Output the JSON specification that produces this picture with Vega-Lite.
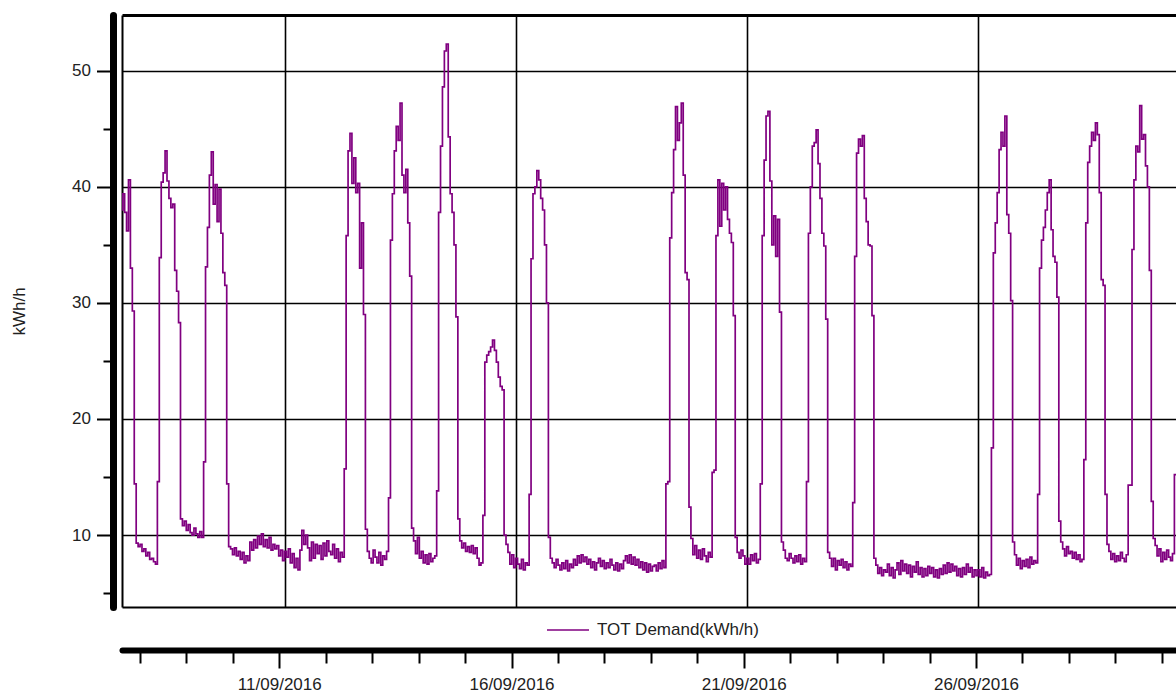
{
"$schema":"https://vega.github.io/schema/vega-lite/v6.json",
"width":1054,"height":592,
"autosize":{"type":"none"},
"padding":{"left":122,"top":15,"right":0,"bottom":89},
"background":"white",
"config":{"view":{"stroke":null},"font":"Liberation Sans"},
"data":{"values":[
{"t":"2016-09-07T11:00Z","v":38.0},{"t":"2016-09-07T12:00Z","v":39.4},{"t":"2016-09-07T13:00Z","v":37.8},{"t":"2016-09-07T14:00Z","v":36.2},{"t":"2016-09-07T15:00Z","v":40.6},{"t":"2016-09-07T16:00Z","v":33.0},{"t":"2016-09-07T17:00Z","v":29.3},{"t":"2016-09-07T18:00Z","v":14.4},{"t":"2016-09-07T19:00Z","v":9.3},{"t":"2016-09-07T20:00Z","v":9.0},{"t":"2016-09-07T21:00Z","v":9.2},{"t":"2016-09-07T22:00Z","v":8.6},{"t":"2016-09-07T23:00Z","v":8.8},
{"t":"2016-09-08T00:00Z","v":8.2},{"t":"2016-09-08T01:00Z","v":8.5},{"t":"2016-09-08T02:00Z","v":7.9},{"t":"2016-09-08T03:00Z","v":8.0},{"t":"2016-09-08T04:00Z","v":7.7},{"t":"2016-09-08T05:00Z","v":7.5},{"t":"2016-09-08T06:00Z","v":14.6},{"t":"2016-09-08T07:00Z","v":33.9},{"t":"2016-09-08T08:00Z","v":40.4},{"t":"2016-09-08T09:00Z","v":41.2},{"t":"2016-09-08T10:00Z","v":43.1},{"t":"2016-09-08T11:00Z","v":40.5},{"t":"2016-09-08T12:00Z","v":39.0},{"t":"2016-09-08T13:00Z","v":38.2},{"t":"2016-09-08T14:00Z","v":38.5},{"t":"2016-09-08T15:00Z","v":32.8},{"t":"2016-09-08T16:00Z","v":31.0},{"t":"2016-09-08T17:00Z","v":28.3},{"t":"2016-09-08T18:00Z","v":11.4},{"t":"2016-09-08T19:00Z","v":10.8},{"t":"2016-09-08T20:00Z","v":11.2},{"t":"2016-09-08T21:00Z","v":10.4},{"t":"2016-09-08T22:00Z","v":10.9},{"t":"2016-09-08T23:00Z","v":10.2},
{"t":"2016-09-09T00:00Z","v":10.0},{"t":"2016-09-09T01:00Z","v":10.6},{"t":"2016-09-09T02:00Z","v":10.1},{"t":"2016-09-09T03:00Z","v":9.8},{"t":"2016-09-09T04:00Z","v":10.3},{"t":"2016-09-09T05:00Z","v":9.8},{"t":"2016-09-09T06:00Z","v":16.3},{"t":"2016-09-09T07:00Z","v":33.1},{"t":"2016-09-09T08:00Z","v":36.5},{"t":"2016-09-09T09:00Z","v":41.0},{"t":"2016-09-09T10:00Z","v":43.0},{"t":"2016-09-09T11:00Z","v":38.5},{"t":"2016-09-09T12:00Z","v":40.2},{"t":"2016-09-09T13:00Z","v":37.0},{"t":"2016-09-09T14:00Z","v":39.8},{"t":"2016-09-09T15:00Z","v":36.0},{"t":"2016-09-09T16:00Z","v":32.6},{"t":"2016-09-09T17:00Z","v":31.5},{"t":"2016-09-09T18:00Z","v":14.4},{"t":"2016-09-09T19:00Z","v":9.0},{"t":"2016-09-09T20:00Z","v":8.8},{"t":"2016-09-09T21:00Z","v":8.3},{"t":"2016-09-09T22:00Z","v":8.9},{"t":"2016-09-09T23:00Z","v":8.2},
{"t":"2016-09-10T00:00Z","v":8.6},{"t":"2016-09-10T01:00Z","v":7.9},{"t":"2016-09-10T02:00Z","v":8.5},{"t":"2016-09-10T03:00Z","v":7.6},{"t":"2016-09-10T04:00Z","v":8.2},{"t":"2016-09-10T05:00Z","v":7.8},{"t":"2016-09-10T06:00Z","v":9.4},{"t":"2016-09-10T07:00Z","v":8.7},{"t":"2016-09-10T08:00Z","v":9.6},{"t":"2016-09-10T09:00Z","v":8.9},{"t":"2016-09-10T10:00Z","v":9.9},{"t":"2016-09-10T11:00Z","v":9.2},{"t":"2016-09-10T12:00Z","v":10.1},{"t":"2016-09-10T13:00Z","v":9.0},{"t":"2016-09-10T14:00Z","v":9.6},{"t":"2016-09-10T15:00Z","v":8.9},{"t":"2016-09-10T16:00Z","v":9.8},{"t":"2016-09-10T17:00Z","v":8.7},{"t":"2016-09-10T18:00Z","v":9.2},{"t":"2016-09-10T19:00Z","v":8.8},{"t":"2016-09-10T20:00Z","v":9.1},{"t":"2016-09-10T21:00Z","v":8.2},{"t":"2016-09-10T22:00Z","v":8.7},{"t":"2016-09-10T23:00Z","v":7.8},
{"t":"2016-09-11T00:00Z","v":8.6},{"t":"2016-09-11T01:00Z","v":8.1},{"t":"2016-09-11T02:00Z","v":8.8},{"t":"2016-09-11T03:00Z","v":7.6},{"t":"2016-09-11T04:00Z","v":8.4},{"t":"2016-09-11T05:00Z","v":7.2},{"t":"2016-09-11T06:00Z","v":8.0},{"t":"2016-09-11T07:00Z","v":7.0},{"t":"2016-09-11T08:00Z","v":8.7},{"t":"2016-09-11T09:00Z","v":10.4},{"t":"2016-09-11T10:00Z","v":9.2},{"t":"2016-09-11T11:00Z","v":10.0},{"t":"2016-09-11T12:00Z","v":8.9},{"t":"2016-09-11T13:00Z","v":7.8},{"t":"2016-09-11T14:00Z","v":9.4},{"t":"2016-09-11T15:00Z","v":8.0},{"t":"2016-09-11T16:00Z","v":9.2},{"t":"2016-09-11T17:00Z","v":8.4},{"t":"2016-09-11T18:00Z","v":9.1},{"t":"2016-09-11T19:00Z","v":7.9},{"t":"2016-09-11T20:00Z","v":9.3},{"t":"2016-09-11T21:00Z","v":8.2},{"t":"2016-09-11T22:00Z","v":9.5},{"t":"2016-09-11T23:00Z","v":8.6},
{"t":"2016-09-12T00:00Z","v":8.3},{"t":"2016-09-12T01:00Z","v":9.2},{"t":"2016-09-12T02:00Z","v":8.0},{"t":"2016-09-12T03:00Z","v":8.8},{"t":"2016-09-12T04:00Z","v":7.7},{"t":"2016-09-12T05:00Z","v":8.5},{"t":"2016-09-12T06:00Z","v":8.1},{"t":"2016-09-12T07:00Z","v":15.7},{"t":"2016-09-12T08:00Z","v":35.8},{"t":"2016-09-12T09:00Z","v":43.1},{"t":"2016-09-12T10:00Z","v":44.6},{"t":"2016-09-12T11:00Z","v":40.3},{"t":"2016-09-12T12:00Z","v":42.5},{"t":"2016-09-12T13:00Z","v":39.5},{"t":"2016-09-12T14:00Z","v":40.3},{"t":"2016-09-12T15:00Z","v":33.0},{"t":"2016-09-12T16:00Z","v":36.9},{"t":"2016-09-12T17:00Z","v":29.0},{"t":"2016-09-12T18:00Z","v":10.5},{"t":"2016-09-12T19:00Z","v":8.6},{"t":"2016-09-12T20:00Z","v":8.0},{"t":"2016-09-12T21:00Z","v":7.6},{"t":"2016-09-12T22:00Z","v":8.7},{"t":"2016-09-12T23:00Z","v":8.1},
{"t":"2016-09-13T00:00Z","v":7.6},{"t":"2016-09-13T01:00Z","v":8.5},{"t":"2016-09-13T02:00Z","v":7.4},{"t":"2016-09-13T03:00Z","v":8.2},{"t":"2016-09-13T04:00Z","v":7.9},{"t":"2016-09-13T05:00Z","v":8.6},{"t":"2016-09-13T06:00Z","v":13.2},{"t":"2016-09-13T07:00Z","v":35.4},{"t":"2016-09-13T08:00Z","v":39.4},{"t":"2016-09-13T09:00Z","v":43.1},{"t":"2016-09-13T10:00Z","v":45.2},{"t":"2016-09-13T11:00Z","v":44.0},{"t":"2016-09-13T12:00Z","v":47.2},{"t":"2016-09-13T13:00Z","v":41.0},{"t":"2016-09-13T14:00Z","v":39.5},{"t":"2016-09-13T15:00Z","v":41.5},{"t":"2016-09-13T16:00Z","v":36.9},{"t":"2016-09-13T17:00Z","v":32.3},{"t":"2016-09-13T18:00Z","v":10.6},{"t":"2016-09-13T19:00Z","v":9.5},{"t":"2016-09-13T20:00Z","v":8.4},{"t":"2016-09-13T21:00Z","v":9.8},{"t":"2016-09-13T22:00Z","v":8.0},{"t":"2016-09-13T23:00Z","v":8.6},
{"t":"2016-09-14T00:00Z","v":7.6},{"t":"2016-09-14T01:00Z","v":8.3},{"t":"2016-09-14T02:00Z","v":7.5},{"t":"2016-09-14T03:00Z","v":8.4},{"t":"2016-09-14T04:00Z","v":7.7},{"t":"2016-09-14T05:00Z","v":8.0},{"t":"2016-09-14T06:00Z","v":8.2},{"t":"2016-09-14T07:00Z","v":13.8},{"t":"2016-09-14T08:00Z","v":37.8},{"t":"2016-09-14T09:00Z","v":43.5},{"t":"2016-09-14T10:00Z","v":48.6},{"t":"2016-09-14T11:00Z","v":51.7},{"t":"2016-09-14T12:00Z","v":52.3},{"t":"2016-09-14T13:00Z","v":44.3},{"t":"2016-09-14T14:00Z","v":39.4},{"t":"2016-09-14T15:00Z","v":37.8},{"t":"2016-09-14T16:00Z","v":35.0},{"t":"2016-09-14T17:00Z","v":28.8},{"t":"2016-09-14T18:00Z","v":11.4},{"t":"2016-09-14T19:00Z","v":9.5},{"t":"2016-09-14T20:00Z","v":8.9},{"t":"2016-09-14T21:00Z","v":9.3},{"t":"2016-09-14T22:00Z","v":8.6},{"t":"2016-09-14T23:00Z","v":9.0},
{"t":"2016-09-15T00:00Z","v":8.5},{"t":"2016-09-15T01:00Z","v":9.1},{"t":"2016-09-15T02:00Z","v":8.4},{"t":"2016-09-15T03:00Z","v":8.9},{"t":"2016-09-15T04:00Z","v":8.0},{"t":"2016-09-15T05:00Z","v":7.4},{"t":"2016-09-15T06:00Z","v":7.6},{"t":"2016-09-15T07:00Z","v":11.7},{"t":"2016-09-15T08:00Z","v":24.9},{"t":"2016-09-15T09:00Z","v":25.5},{"t":"2016-09-15T10:00Z","v":25.8},{"t":"2016-09-15T11:00Z","v":26.2},{"t":"2016-09-15T12:00Z","v":26.8},{"t":"2016-09-15T13:00Z","v":25.9},{"t":"2016-09-15T14:00Z","v":24.9},{"t":"2016-09-15T15:00Z","v":23.6},{"t":"2016-09-15T16:00Z","v":22.8},{"t":"2016-09-15T17:00Z","v":22.5},{"t":"2016-09-15T18:00Z","v":10.0},{"t":"2016-09-15T19:00Z","v":9.2},{"t":"2016-09-15T20:00Z","v":8.5},{"t":"2016-09-15T21:00Z","v":7.5},{"t":"2016-09-15T22:00Z","v":8.3},{"t":"2016-09-15T23:00Z","v":7.2},
{"t":"2016-09-16T00:00Z","v":8.0},{"t":"2016-09-16T01:00Z","v":7.5},{"t":"2016-09-16T02:00Z","v":7.1},{"t":"2016-09-16T03:00Z","v":7.9},{"t":"2016-09-16T04:00Z","v":7.0},{"t":"2016-09-16T05:00Z","v":7.6},{"t":"2016-09-16T06:00Z","v":7.4},{"t":"2016-09-16T07:00Z","v":13.5},{"t":"2016-09-16T08:00Z","v":33.8},{"t":"2016-09-16T09:00Z","v":39.4},{"t":"2016-09-16T10:00Z","v":40.0},{"t":"2016-09-16T11:00Z","v":41.4},{"t":"2016-09-16T12:00Z","v":40.6},{"t":"2016-09-16T13:00Z","v":39.0},{"t":"2016-09-16T14:00Z","v":38.0},{"t":"2016-09-16T15:00Z","v":35.0},{"t":"2016-09-16T16:00Z","v":30.0},{"t":"2016-09-16T17:00Z","v":9.8},{"t":"2016-09-16T18:00Z","v":8.0},{"t":"2016-09-16T19:00Z","v":7.6},{"t":"2016-09-16T20:00Z","v":7.2},{"t":"2016-09-16T21:00Z","v":7.9},{"t":"2016-09-16T22:00Z","v":7.4},{"t":"2016-09-16T23:00Z","v":7.0},
{"t":"2016-09-17T00:00Z","v":7.6},{"t":"2016-09-17T01:00Z","v":7.1},{"t":"2016-09-17T02:00Z","v":7.8},{"t":"2016-09-17T03:00Z","v":6.9},{"t":"2016-09-17T04:00Z","v":7.5},{"t":"2016-09-17T05:00Z","v":7.2},{"t":"2016-09-17T06:00Z","v":7.9},{"t":"2016-09-17T07:00Z","v":7.4},{"t":"2016-09-17T08:00Z","v":8.2},{"t":"2016-09-17T09:00Z","v":7.6},{"t":"2016-09-17T10:00Z","v":8.3},{"t":"2016-09-17T11:00Z","v":7.7},{"t":"2016-09-17T12:00Z","v":8.1},{"t":"2016-09-17T13:00Z","v":7.5},{"t":"2016-09-17T14:00Z","v":7.9},{"t":"2016-09-17T15:00Z","v":7.2},{"t":"2016-09-17T16:00Z","v":7.7},{"t":"2016-09-17T17:00Z","v":7.0},{"t":"2016-09-17T18:00Z","v":7.6},{"t":"2016-09-17T19:00Z","v":8.0},{"t":"2016-09-17T20:00Z","v":7.3},{"t":"2016-09-17T21:00Z","v":7.8},{"t":"2016-09-17T22:00Z","v":7.1},{"t":"2016-09-17T23:00Z","v":7.6},
{"t":"2016-09-18T00:00Z","v":7.2},{"t":"2016-09-18T01:00Z","v":7.9},{"t":"2016-09-18T02:00Z","v":7.4},{"t":"2016-09-18T03:00Z","v":7.0},{"t":"2016-09-18T04:00Z","v":7.6},{"t":"2016-09-18T05:00Z","v":6.9},{"t":"2016-09-18T06:00Z","v":7.5},{"t":"2016-09-18T07:00Z","v":7.1},{"t":"2016-09-18T08:00Z","v":7.8},{"t":"2016-09-18T09:00Z","v":8.2},{"t":"2016-09-18T10:00Z","v":7.6},{"t":"2016-09-18T11:00Z","v":8.3},{"t":"2016-09-18T12:00Z","v":7.5},{"t":"2016-09-18T13:00Z","v":8.1},{"t":"2016-09-18T14:00Z","v":7.4},{"t":"2016-09-18T15:00Z","v":7.9},{"t":"2016-09-18T16:00Z","v":7.2},{"t":"2016-09-18T17:00Z","v":7.7},{"t":"2016-09-18T18:00Z","v":7.0},{"t":"2016-09-18T19:00Z","v":7.6},{"t":"2016-09-18T20:00Z","v":6.8},{"t":"2016-09-18T21:00Z","v":7.5},{"t":"2016-09-18T22:00Z","v":6.9},{"t":"2016-09-18T23:00Z","v":7.3},
{"t":"2016-09-19T00:00Z","v":7.4},{"t":"2016-09-19T01:00Z","v":6.9},{"t":"2016-09-19T02:00Z","v":7.6},{"t":"2016-09-19T03:00Z","v":7.1},{"t":"2016-09-19T04:00Z","v":7.8},{"t":"2016-09-19T05:00Z","v":7.2},{"t":"2016-09-19T06:00Z","v":14.4},{"t":"2016-09-19T07:00Z","v":14.6},{"t":"2016-09-19T08:00Z","v":35.6},{"t":"2016-09-19T09:00Z","v":39.5},{"t":"2016-09-19T10:00Z","v":43.2},{"t":"2016-09-19T11:00Z","v":46.9},{"t":"2016-09-19T12:00Z","v":44.0},{"t":"2016-09-19T13:00Z","v":45.5},{"t":"2016-09-19T14:00Z","v":47.2},{"t":"2016-09-19T15:00Z","v":41.0},{"t":"2016-09-19T16:00Z","v":32.6},{"t":"2016-09-19T17:00Z","v":32.0},{"t":"2016-09-19T18:00Z","v":12.4},{"t":"2016-09-19T19:00Z","v":9.7},{"t":"2016-09-19T20:00Z","v":8.3},{"t":"2016-09-19T21:00Z","v":9.1},{"t":"2016-09-19T22:00Z","v":8.0},{"t":"2016-09-19T23:00Z","v":8.7},
{"t":"2016-09-20T00:00Z","v":7.9},{"t":"2016-09-20T01:00Z","v":8.8},{"t":"2016-09-20T02:00Z","v":8.2},{"t":"2016-09-20T03:00Z","v":7.7},{"t":"2016-09-20T04:00Z","v":8.5},{"t":"2016-09-20T05:00Z","v":8.1},{"t":"2016-09-20T06:00Z","v":15.4},{"t":"2016-09-20T07:00Z","v":15.6},{"t":"2016-09-20T08:00Z","v":35.8},{"t":"2016-09-20T09:00Z","v":40.6},{"t":"2016-09-20T10:00Z","v":36.6},{"t":"2016-09-20T11:00Z","v":40.3},{"t":"2016-09-20T12:00Z","v":38.0},{"t":"2016-09-20T13:00Z","v":40.0},{"t":"2016-09-20T14:00Z","v":37.2},{"t":"2016-09-20T15:00Z","v":36.0},{"t":"2016-09-20T16:00Z","v":35.2},{"t":"2016-09-20T17:00Z","v":28.9},{"t":"2016-09-20T18:00Z","v":9.8},{"t":"2016-09-20T19:00Z","v":8.5},{"t":"2016-09-20T20:00Z","v":8.0},{"t":"2016-09-20T21:00Z","v":8.7},{"t":"2016-09-20T22:00Z","v":8.2},{"t":"2016-09-20T23:00Z","v":7.5},
{"t":"2016-09-21T00:00Z","v":8.0},{"t":"2016-09-21T01:00Z","v":7.5},{"t":"2016-09-21T02:00Z","v":8.3},{"t":"2016-09-21T03:00Z","v":7.8},{"t":"2016-09-21T04:00Z","v":8.4},{"t":"2016-09-21T05:00Z","v":7.6},{"t":"2016-09-21T06:00Z","v":7.9},{"t":"2016-09-21T07:00Z","v":14.4},{"t":"2016-09-21T08:00Z","v":35.8},{"t":"2016-09-21T09:00Z","v":42.3},{"t":"2016-09-21T10:00Z","v":46.1},{"t":"2016-09-21T11:00Z","v":46.5},{"t":"2016-09-21T12:00Z","v":40.5},{"t":"2016-09-21T13:00Z","v":35.0},{"t":"2016-09-21T14:00Z","v":37.5},{"t":"2016-09-21T15:00Z","v":34.0},{"t":"2016-09-21T16:00Z","v":37.2},{"t":"2016-09-21T17:00Z","v":29.2},{"t":"2016-09-21T18:00Z","v":9.4},{"t":"2016-09-21T19:00Z","v":8.7},{"t":"2016-09-21T20:00Z","v":8.0},{"t":"2016-09-21T21:00Z","v":7.8},{"t":"2016-09-21T22:00Z","v":8.4},{"t":"2016-09-21T23:00Z","v":8.0},
{"t":"2016-09-22T00:00Z","v":7.6},{"t":"2016-09-22T01:00Z","v":8.2},{"t":"2016-09-22T02:00Z","v":7.7},{"t":"2016-09-22T03:00Z","v":8.3},{"t":"2016-09-22T04:00Z","v":7.5},{"t":"2016-09-22T05:00Z","v":8.0},{"t":"2016-09-22T06:00Z","v":7.7},{"t":"2016-09-22T07:00Z","v":14.6},{"t":"2016-09-22T08:00Z","v":36.0},{"t":"2016-09-22T09:00Z","v":40.0},{"t":"2016-09-22T10:00Z","v":43.5},{"t":"2016-09-22T11:00Z","v":43.8},{"t":"2016-09-22T12:00Z","v":44.9},{"t":"2016-09-22T13:00Z","v":42.0},{"t":"2016-09-22T14:00Z","v":39.0},{"t":"2016-09-22T15:00Z","v":36.0},{"t":"2016-09-22T16:00Z","v":34.9},{"t":"2016-09-22T17:00Z","v":28.6},{"t":"2016-09-22T18:00Z","v":8.5},{"t":"2016-09-22T19:00Z","v":8.0},{"t":"2016-09-22T20:00Z","v":7.3},{"t":"2016-09-22T21:00Z","v":8.0},{"t":"2016-09-22T22:00Z","v":7.0},{"t":"2016-09-22T23:00Z","v":7.8},
{"t":"2016-09-23T00:00Z","v":7.4},{"t":"2016-09-23T01:00Z","v":7.9},{"t":"2016-09-23T02:00Z","v":7.2},{"t":"2016-09-23T03:00Z","v":7.7},{"t":"2016-09-23T04:00Z","v":7.0},{"t":"2016-09-23T05:00Z","v":7.5},{"t":"2016-09-23T06:00Z","v":7.3},{"t":"2016-09-23T07:00Z","v":12.8},{"t":"2016-09-23T08:00Z","v":34.0},{"t":"2016-09-23T09:00Z","v":42.9},{"t":"2016-09-23T10:00Z","v":44.1},{"t":"2016-09-23T11:00Z","v":43.5},{"t":"2016-09-23T12:00Z","v":44.4},{"t":"2016-09-23T13:00Z","v":39.0},{"t":"2016-09-23T14:00Z","v":37.0},{"t":"2016-09-23T15:00Z","v":35.0},{"t":"2016-09-23T16:00Z","v":34.9},{"t":"2016-09-23T17:00Z","v":28.9},{"t":"2016-09-23T18:00Z","v":8.0},{"t":"2016-09-23T19:00Z","v":7.4},{"t":"2016-09-23T20:00Z","v":6.7},{"t":"2016-09-23T21:00Z","v":7.2},{"t":"2016-09-23T22:00Z","v":6.5},{"t":"2016-09-23T23:00Z","v":7.0},
{"t":"2016-09-24T00:00Z","v":6.8},{"t":"2016-09-24T01:00Z","v":7.5},{"t":"2016-09-24T02:00Z","v":6.5},{"t":"2016-09-24T03:00Z","v":7.2},{"t":"2016-09-24T04:00Z","v":6.3},{"t":"2016-09-24T05:00Z","v":7.0},{"t":"2016-09-24T06:00Z","v":7.6},{"t":"2016-09-24T07:00Z","v":6.6},{"t":"2016-09-24T08:00Z","v":7.8},{"t":"2016-09-24T09:00Z","v":6.9},{"t":"2016-09-24T10:00Z","v":7.5},{"t":"2016-09-24T11:00Z","v":6.7},{"t":"2016-09-24T12:00Z","v":7.4},{"t":"2016-09-24T13:00Z","v":6.4},{"t":"2016-09-24T14:00Z","v":7.3},{"t":"2016-09-24T15:00Z","v":6.8},{"t":"2016-09-24T16:00Z","v":7.7},{"t":"2016-09-24T17:00Z","v":6.6},{"t":"2016-09-24T18:00Z","v":7.2},{"t":"2016-09-24T19:00Z","v":6.4},{"t":"2016-09-24T20:00Z","v":7.1},{"t":"2016-09-24T21:00Z","v":6.5},{"t":"2016-09-24T22:00Z","v":7.3},{"t":"2016-09-24T23:00Z","v":6.7},
{"t":"2016-09-25T00:00Z","v":7.2},{"t":"2016-09-25T01:00Z","v":6.4},{"t":"2016-09-25T02:00Z","v":7.0},{"t":"2016-09-25T03:00Z","v":6.3},{"t":"2016-09-25T04:00Z","v":7.1},{"t":"2016-09-25T05:00Z","v":6.6},{"t":"2016-09-25T06:00Z","v":7.4},{"t":"2016-09-25T07:00Z","v":6.7},{"t":"2016-09-25T08:00Z","v":7.6},{"t":"2016-09-25T09:00Z","v":6.8},{"t":"2016-09-25T10:00Z","v":7.5},{"t":"2016-09-25T11:00Z","v":6.9},{"t":"2016-09-25T12:00Z","v":7.3},{"t":"2016-09-25T13:00Z","v":6.5},{"t":"2016-09-25T14:00Z","v":7.1},{"t":"2016-09-25T15:00Z","v":6.4},{"t":"2016-09-25T16:00Z","v":7.2},{"t":"2016-09-25T17:00Z","v":6.6},{"t":"2016-09-25T18:00Z","v":7.5},{"t":"2016-09-25T19:00Z","v":6.8},{"t":"2016-09-25T20:00Z","v":7.2},{"t":"2016-09-25T21:00Z","v":6.4},{"t":"2016-09-25T22:00Z","v":7.0},{"t":"2016-09-25T23:00Z","v":6.5},
{"t":"2016-09-26T00:00Z","v":7.0},{"t":"2016-09-26T01:00Z","v":6.4},{"t":"2016-09-26T02:00Z","v":7.2},{"t":"2016-09-26T03:00Z","v":6.3},{"t":"2016-09-26T04:00Z","v":6.8},{"t":"2016-09-26T05:00Z","v":6.5},{"t":"2016-09-26T06:00Z","v":6.6},{"t":"2016-09-26T07:00Z","v":17.5},{"t":"2016-09-26T08:00Z","v":34.3},{"t":"2016-09-26T09:00Z","v":36.9},{"t":"2016-09-26T10:00Z","v":39.5},{"t":"2016-09-26T11:00Z","v":43.2},{"t":"2016-09-26T12:00Z","v":44.7},{"t":"2016-09-26T13:00Z","v":43.5},{"t":"2016-09-26T14:00Z","v":46.1},{"t":"2016-09-26T15:00Z","v":37.6},{"t":"2016-09-26T16:00Z","v":36.0},{"t":"2016-09-26T17:00Z","v":30.2},{"t":"2016-09-26T18:00Z","v":9.4},{"t":"2016-09-26T19:00Z","v":8.3},{"t":"2016-09-26T20:00Z","v":7.4},{"t":"2016-09-26T21:00Z","v":8.0},{"t":"2016-09-26T22:00Z","v":7.1},{"t":"2016-09-26T23:00Z","v":7.8},
{"t":"2016-09-27T00:00Z","v":7.3},{"t":"2016-09-27T01:00Z","v":7.9},{"t":"2016-09-27T02:00Z","v":7.2},{"t":"2016-09-27T03:00Z","v":8.1},{"t":"2016-09-27T04:00Z","v":7.5},{"t":"2016-09-27T05:00Z","v":7.8},{"t":"2016-09-27T06:00Z","v":7.6},{"t":"2016-09-27T07:00Z","v":13.5},{"t":"2016-09-27T08:00Z","v":33.0},{"t":"2016-09-27T09:00Z","v":35.4},{"t":"2016-09-27T10:00Z","v":36.5},{"t":"2016-09-27T11:00Z","v":38.0},{"t":"2016-09-27T12:00Z","v":39.5},{"t":"2016-09-27T13:00Z","v":40.6},{"t":"2016-09-27T14:00Z","v":36.3},{"t":"2016-09-27T15:00Z","v":34.0},{"t":"2016-09-27T16:00Z","v":33.5},{"t":"2016-09-27T17:00Z","v":30.5},{"t":"2016-09-27T18:00Z","v":11.2},{"t":"2016-09-27T19:00Z","v":9.4},{"t":"2016-09-27T20:00Z","v":8.8},{"t":"2016-09-27T21:00Z","v":8.2},{"t":"2016-09-27T22:00Z","v":9.0},{"t":"2016-09-27T23:00Z","v":8.4},
{"t":"2016-09-28T00:00Z","v":8.6},{"t":"2016-09-28T01:00Z","v":8.0},{"t":"2016-09-28T02:00Z","v":8.5},{"t":"2016-09-28T03:00Z","v":7.9},{"t":"2016-09-28T04:00Z","v":8.3},{"t":"2016-09-28T05:00Z","v":7.7},{"t":"2016-09-28T06:00Z","v":7.9},{"t":"2016-09-28T07:00Z","v":16.5},{"t":"2016-09-28T08:00Z","v":36.9},{"t":"2016-09-28T09:00Z","v":42.1},{"t":"2016-09-28T10:00Z","v":43.5},{"t":"2016-09-28T11:00Z","v":44.7},{"t":"2016-09-28T12:00Z","v":44.0},{"t":"2016-09-28T13:00Z","v":45.5},{"t":"2016-09-28T14:00Z","v":44.5},{"t":"2016-09-28T15:00Z","v":39.5},{"t":"2016-09-28T16:00Z","v":32.0},{"t":"2016-09-28T17:00Z","v":31.5},{"t":"2016-09-28T18:00Z","v":13.5},{"t":"2016-09-28T19:00Z","v":9.2},{"t":"2016-09-28T20:00Z","v":8.6},{"t":"2016-09-28T21:00Z","v":7.9},{"t":"2016-09-28T22:00Z","v":8.4},{"t":"2016-09-28T23:00Z","v":7.7},
{"t":"2016-09-29T00:00Z","v":8.2},{"t":"2016-09-29T01:00Z","v":7.8},{"t":"2016-09-29T02:00Z","v":8.5},{"t":"2016-09-29T03:00Z","v":8.0},{"t":"2016-09-29T04:00Z","v":7.7},{"t":"2016-09-29T05:00Z","v":8.3},{"t":"2016-09-29T06:00Z","v":14.3},{"t":"2016-09-29T07:00Z","v":14.3},{"t":"2016-09-29T08:00Z","v":34.6},{"t":"2016-09-29T09:00Z","v":40.6},{"t":"2016-09-29T10:00Z","v":43.5},{"t":"2016-09-29T11:00Z","v":43.0},{"t":"2016-09-29T12:00Z","v":47.0},{"t":"2016-09-29T13:00Z","v":44.1},{"t":"2016-09-29T14:00Z","v":44.5},{"t":"2016-09-29T15:00Z","v":41.8},{"t":"2016-09-29T16:00Z","v":40.0},{"t":"2016-09-29T17:00Z","v":32.8},{"t":"2016-09-29T18:00Z","v":12.9},{"t":"2016-09-29T19:00Z","v":9.7},{"t":"2016-09-29T20:00Z","v":9.1},{"t":"2016-09-29T21:00Z","v":8.2},{"t":"2016-09-29T22:00Z","v":8.8},{"t":"2016-09-29T23:00Z","v":7.7},
{"t":"2016-09-30T00:00Z","v":8.5},{"t":"2016-09-30T01:00Z","v":7.9},{"t":"2016-09-30T02:00Z","v":8.7},{"t":"2016-09-30T03:00Z","v":8.1},{"t":"2016-09-30T04:00Z","v":7.8},{"t":"2016-09-30T05:00Z","v":8.4},{"t":"2016-09-30T06:00Z","v":15.2},{"t":"2016-09-30T07:00Z","v":15.2}
]},
"layer":[
{"mark":{"type":"line","interpolate":"step-after","strokeWidth":1.7,"clip":true},
 "encoding":{
  "x":{"field":"t","type":"temporal",
   "scale":{"type":"utc","domain":[{"year":2016,"month":9,"date":7,"hours":11,"minutes":38,"utc":true},{"year":2016,"month":9,"date":30,"hours":6,"minutes":50,"utc":true}]},
   "axis":{"orient":"bottom","offset":0,"title":null,"labels":false,"ticks":false,"domain":true,"domainColor":"#000000","domainWidth":2,
    "grid":true,"gridColor":"#000000","gridOpacity":1,"gridWidth":1.6,
    "values":[{"year":2016,"month":9,"date":11,"utc":true},{"year":2016,"month":9,"date":16,"utc":true},{"year":2016,"month":9,"date":21,"utc":true},{"year":2016,"month":9,"date":26,"utc":true}]}},
  "y":{"field":"v","type":"quantitative",
   "scale":{"domain":[3.8,54.8],"nice":false,"zero":false},
   "axis":{"orient":"left","offset":0,"title":null,"labels":false,"ticks":false,"domain":true,"domainColor":"#000000","domainWidth":2,
    "grid":true,"gridColor":"#000000","gridOpacity":1,
    "gridWidth":{"condition":{"test":"datum.value > 54","value":3},"value":1.6},
    "values":[10,20,30,40,50,54.8]}},
  "color":{"datum":"TOT Demand(kWh/h)","type":"nominal","scale":{"range":["#800080"]},
   "legend":{"orient":"none","legendX":424,"legendY":593,"title":null,"padding":0,"symbolType":"stroke","symbolSize":1764,"symbolStrokeWidth":1.5,"labelFont":"Liberation Sans","labelFontSize":17,"labelColor":"#222222","labelOffset":7,"labelLimit":400}}
 }},
{"mark":{"type":"point","opacity":0},
 "encoding":{
  "x":{"field":"t","type":"temporal",
   "scale":{"type":"utc","domain":[{"year":2016,"month":9,"date":7,"hours":14,"minutes":44,"utc":true},{"year":2016,"month":9,"date":30,"hours":7,"minutes":20,"utc":true}]},
   "axis":{"orient":"bottom","offset":43,"title":null,"grid":false,
    "domain":true,"domainColor":"#000000","domainWidth":6,"domainCap":"round",
    "ticks":true,"tickColor":"#000000","tickWidth":2,
    "tickSize":{"condition":{"test":"utcdate(datum.value) % 5 === 1","value":18},"value":13},
    "labelExpr":"utcdate(datum.value) % 5 === 1 ? utcFormat(datum.value, '%d/%m/%Y') : ''",
    "labelFont":"Liberation Sans","labelFontSize":17,"labelColor":"#222222","labelPadding":8,"labelFlush":false,"labelOverlap":false,
    "values":[{"year":2016,"month":9,"date":8,"utc":true},{"year":2016,"month":9,"date":9,"utc":true},{"year":2016,"month":9,"date":10,"utc":true},{"year":2016,"month":9,"date":11,"utc":true},{"year":2016,"month":9,"date":12,"utc":true},{"year":2016,"month":9,"date":13,"utc":true},{"year":2016,"month":9,"date":14,"utc":true},{"year":2016,"month":9,"date":15,"utc":true},{"year":2016,"month":9,"date":16,"utc":true},{"year":2016,"month":9,"date":17,"utc":true},{"year":2016,"month":9,"date":18,"utc":true},{"year":2016,"month":9,"date":19,"utc":true},{"year":2016,"month":9,"date":20,"utc":true},{"year":2016,"month":9,"date":21,"utc":true},{"year":2016,"month":9,"date":22,"utc":true},{"year":2016,"month":9,"date":23,"utc":true},{"year":2016,"month":9,"date":24,"utc":true},{"year":2016,"month":9,"date":25,"utc":true},{"year":2016,"month":9,"date":26,"utc":true},{"year":2016,"month":9,"date":27,"utc":true},{"year":2016,"month":9,"date":28,"utc":true},{"year":2016,"month":9,"date":29,"utc":true},{"year":2016,"month":9,"date":30,"utc":true}]}},
  "y":{"field":"v","type":"quantitative",
   "scale":{"domain":[3.8,54.8],"nice":false,"zero":false},
   "axis":{"orient":"left","offset":9,"grid":false,
    "domain":true,"domainColor":"#000000","domainWidth":7,"domainCap":"round",
    "ticks":true,"tickColor":"#000000","tickWidth":2,
    "tickSize":{"condition":{"test":"datum.value % 10 === 0","value":16.5},"value":10},
    "values":[5,10,15,20,25,30,35,40,45,50],
    "labelExpr":"datum.value % 10 === 0 ? datum.label : ''",
    "labelFont":"Liberation Sans","labelFontSize":17,"labelColor":"#222222","labelPadding":6,
    "title":"kWh/h","titleFont":"Liberation Sans","titleFontSize":17,"titleFontWeight":"normal","titleColor":"#222222","titlePadding":43}}
 }}
],
"resolve":{"scale":{"x":"independent"},"axis":{"x":"independent","y":"independent"}}
}
